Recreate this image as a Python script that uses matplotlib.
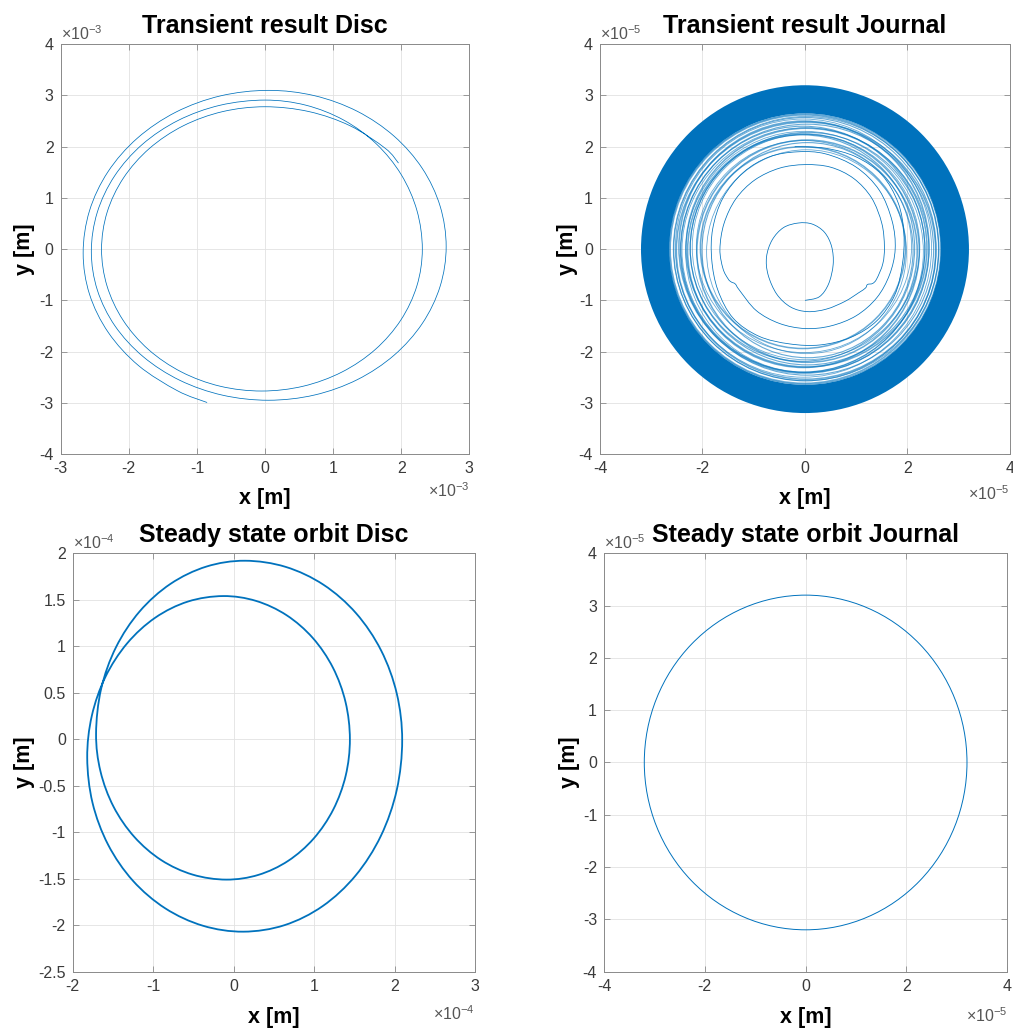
import numpy as np
import matplotlib
matplotlib.use("Agg")
import matplotlib.pyplot as plt
from matplotlib.path import Path
from matplotlib.patches import PathPatch, Circle, Annulus, Ellipse
from matplotlib.ticker import FuncFormatter

plt.rcParams["font.family"] = ["Liberation Sans", "DejaVu Sans"]
plt.rcParams["axes.unicode_minus"] = False
plt.rcParams["mathtext.fontset"] = "custom"
plt.rcParams["mathtext.rm"] = "Liberation Sans"
plt.rcParams["mathtext.it"] = "Liberation Sans:italic"
plt.rcParams["mathtext.bf"] = "Liberation Sans:bold"

LINE = "#0072BD"

# ---- Transient disc orbit (units of 1e-3 m) ----
disc_tr_x = [-0.85, -1.285, -1.858, -2.299, -2.576, -2.67,
             -2.578, -2.306, -1.873, -1.31, -0.654, 0.05,
             0.726, 1.355, 1.895, 2.31, 2.571, 2.66,
             2.571, 2.31, 1.895, 1.355, 0.726, 0.05,
             -0.623, -1.25, -1.788, -2.202, -2.461, -2.55,
             -2.463, -2.208, -1.803, -1.275, -0.66, 0.0,
             0.598, 1.155, 1.633, 2.0, 2.231, 2.31,
             2.23, 1.994, 1.619, 1.13, 0.561, -0.05,
             -0.659, -1.225, -1.712, -2.085, -2.32, -2.40,
             -2.318, -2.078, -1.697, -1.2, -0.622, 0.0,
             0.647, 1.25, 1.768, 1.96]
disc_tr_y = [-2.994, -2.765, -2.272, -1.63, -0.883, -0.08,
             0.744, 1.51, 2.168, 2.674, 2.992, 3.10,
             2.996, 2.691, 2.206, 1.575, 0.84, 0.05,
             -0.727, -1.45, -2.071, -2.548, -2.848, -2.95,
             -2.851, -2.561, -2.10, -1.50, -0.801, -0.05,
             0.717, 1.43, 2.043, 2.513, 2.809, 2.91,
             2.811, 2.52, 2.057, 1.455, 0.753, 0.0,
             -0.717, -1.385, -1.959, -2.399, -2.676, -2.77,
             -2.676, -2.399, -1.959, -1.385, -0.717, 0.0,
             0.72, 1.39, 1.966, 2.408, 2.685, 2.78,
             2.685, 2.408, 1.966, 1.68]
DISC_TR_SCALE = 1e-3

# ---- Transient journal orbit, early spiral (units of 1e-5 m) ----
jour_tr_x = [0.0, 0.28, 0.46, 0.55, 0.52, 0.38, 0.14, -0.13, -0.42, -0.64,
             -0.75, -0.72, -0.55, -0.28, 0.05, 0.42, 0.78, 1.05, 1.18, 1.22,
             1.32, 1.40, 1.52, 1.55, 1.5, 1.3, 0.95, 0.5, 0.0, -0.5,
             -0.98, -1.35, -1.58, -1.66, -1.6, -1.50, -1.44, -1.36, -1.28, -0.95,
             -0.5, 0.0, 0.5, 1.0, 1.4, 1.65, 1.76, 1.7, 1.45, 1.0,
             0.4, -0.15, -0.7, -1.2, -1.6, -1.8, -1.82, -1.7, -1.4, -0.9,
             -0.3, 0.3, 0.9, 1.4, 1.75, 1.9, 1.93, 1.82, 1.5, 1.0,
             0.4, -0.2]
jour_tr_y = [-1.0, -0.93, -0.68, -0.3, 0.05, 0.33, 0.49, 0.51, 0.42, 0.18,
             -0.15, -0.5, -0.88, -1.13, -1.22, -1.17, -1.02, -0.85, -0.76, -0.69,
             -0.67, -0.58, -0.28, 0.05, 0.5, 1.0, 1.38, 1.6, 1.65, 1.58,
             1.35, 0.98, 0.5, 0.0, -0.38, -0.58, -0.64, -0.68, -0.8, -1.2,
             -1.45, -1.55, -1.5, -1.3, -0.95, -0.5, 0.0, 0.55, 1.15, 1.6,
             1.86, 1.9, 1.8, 1.5, 1.0, 0.4, -0.2, -0.8, -1.35, -1.7,
             -1.85, -1.87, -1.72, -1.4, -0.9, -0.3, 0.3, 0.9, 1.45, 1.8,
             1.97, 2.0]
# later, densely overlapping revolutions (semi-axes and centre per revolution)
jour_rev_rx = [1.95, 2.00, 2.06, 2.10, 2.15, 2.19, 2.22, 2.26, 2.29, 2.32, 2.35,
               2.38, 2.41, 2.44, 2.47, 2.50, 2.53, 2.56, 2.59, 2.62, 2.65]
jour_rev_ry = [1.99, 1.97, 2.10, 2.07, 2.17, 2.21, 2.20, 2.28, 2.27, 2.35, 2.33,
               2.40, 2.39, 2.46, 2.45, 2.52, 2.51, 2.57, 2.58, 2.62, 2.64]
jour_rev_cx = [0.03, -0.04, 0.05, -0.02, 0.04, -0.05, 0.02, -0.03, 0.05, -0.01, 0.03,
               -0.04, 0.01, -0.02, 0.04, -0.03, 0.02, 0.0, 0.02, -0.01, 0.0]
jour_rev_cy = [-0.05, 0.03, -0.02, 0.05, -0.04, 0.02, 0.04, -0.03, 0.01, -0.05, 0.03,
               0.0, -0.02, 0.04, -0.01, 0.02, -0.03, 0.0, 0.01, 0.0, 0.0]
# settled whirl band
jour_band_outer = 3.2
jour_band_inner = 2.65
JOUR_SCALE = 1e-5

# ---- Steady-state disc orbit (units of 1e-4 m) ----
disc_ss_x = [0.14, 0.646, 1.118, 1.522, 1.833, 2.028, 2.095,
             2.028, 1.830, 1.516, 1.108, 0.632, 0.12,
             -0.382, -0.85, -1.252, -1.56, -1.754, -1.82,
             -1.763, -1.594, -1.325, -0.975, -0.568, -0.13,
             0.278, 0.658, 0.984, 1.234, 1.391, 1.445,
             1.393, 1.239, 0.995, 0.678, 0.308, -0.09,
             -0.51, -0.90, -1.235, -1.493, -1.655, -1.71,
             -1.647, -1.462, -1.168, -0.785, -0.339, 0.14]
disc_ss_y = [1.92, 1.854, 1.661, 1.355, 0.955, 0.49, -0.01,
             -0.544, -1.04, -1.466, -1.794, -2.0, -2.07,
             -2.006, -1.819, -1.522, -1.135, -0.684, -0.2,
             0.251, 0.67, 1.03, 1.307, 1.481, 1.54,
             1.488, 1.334, 1.089, 0.77, 0.399, 0.0,
             -0.391, -0.755, -1.068, -1.308, -1.459, -1.51,
             -1.456, -1.30, -1.05, -0.725, -0.346, 0.06,
             0.542, 0.99, 1.375, 1.671, 1.857, 1.92]
DISC_SS_SCALE = 1e-4

# ---- Steady-state journal orbit (units of 1e-5 m) ----
jour_ss_center = (0.0, 0.0)
jour_ss_radius = 3.2


def smooth_path(xs, ys, closed=False):
    """Catmull-Rom curve through the given points as cubic Bezier segments."""
    pts = np.column_stack([xs, ys]).astype(float)
    n = len(pts)
    verts = [pts[0]]
    codes = [Path.MOVETO]
    for i in range(n - 1):
        if i > 0:
            p0 = pts[i - 1]
        else:
            p0 = pts[-2] if closed else pts[0]
        p1, p2 = pts[i], pts[i + 1]
        if i + 2 < n:
            p3 = pts[i + 2]
        else:
            p3 = pts[1] if closed else pts[i + 1]
        verts += [p1 + (p2 - p0) / 6.0, p2 - (p3 - p1) / 6.0, p2]
        codes += [Path.CURVE4] * 3
    return Path(verts, codes)


def scaled_formatter(scale):
    def f(v, pos):
        val = round(v / scale, 6)
        if val == 0:
            val = 0.0
        return f"{val:g}"
    return FuncFormatter(f)


def style(ax, scale_x, scale_y, xlim, ylim, xticks, yticks, exp_x, exp_y,
          title, ylab_x, xlab_y, xexp_y):
    ax.set_xlim(xlim[0] * scale_x, xlim[1] * scale_x)
    ax.set_ylim(ylim[0] * scale_y, ylim[1] * scale_y)
    ax.set_xticks([t * scale_x for t in xticks])
    ax.set_yticks([t * scale_y for t in yticks])
    ax.xaxis.set_major_formatter(scaled_formatter(scale_x))
    ax.yaxis.set_major_formatter(scaled_formatter(scale_y))
    ax.grid(True, color="#e2e2e2", lw=0.6)
    ax.set_axisbelow(True)
    for s in ax.spines.values():
        s.set_color("#8a8a8a")
        s.set_linewidth(0.7)
    ax.tick_params(direction="in", top=True, right=True, length=4, width=0.6,
                   color="#8a8a8a", labelsize=11.5, labelcolor="#3a3a3a", pad=5)
    ax.set_title(title, fontsize=18, fontweight="bold", pad=8)
    ax.set_xlabel("x [m]", fontsize=15.5, fontweight="bold")
    ax.set_ylabel("y [m]", fontsize=15.5, fontweight="bold")
    ax.xaxis.set_label_coords(0.5, xlab_y)
    ax.yaxis.set_label_coords(ylab_x, 0.5)
    ax.text(0.0, 1.01, r"$\times10^{%d}$" % exp_y, transform=ax.transAxes,
            ha="left", va="baseline", fontsize=11.5, color="#555555")
    ax.text(1.0, xexp_y, r"$\times10^{%d}$" % exp_x, transform=ax.transAxes,
            ha="right", va="baseline", fontsize=11.5, color="#555555")


fig = plt.figure(figsize=(10.13, 10.34), dpi=100)
ax1 = fig.add_axes([0.0599, 0.5609, 0.4034, 0.3963])
ax2 = fig.add_axes([0.5923, 0.5609, 0.4047, 0.3963])
ax3 = fig.add_axes([0.0718, 0.0603, 0.3971, 0.4046])
ax4 = fig.add_axes([0.5962, 0.0603, 0.3982, 0.4046])

# Transient disc
s = DISC_TR_SCALE
ax1.add_patch(PathPatch(smooth_path(np.array(disc_tr_x) * s, np.array(disc_tr_y) * s),
                        fill=False, edgecolor=LINE, lw=0.55))
style(ax1, s, s, (-3, 3), (-4, 4), range(-3, 4), range(-4, 5), -3, -3,
      "Transient result Disc", -0.063, -0.083, -0.105)

# Transient journal
s = JOUR_SCALE
for i, (rx, ry, cx, cy) in enumerate(zip(jour_rev_rx, jour_rev_ry, jour_rev_cx, jour_rev_cy)):
    ax2.add_patch(Ellipse((cx * s, cy * s), 2 * rx * s, 2 * ry * s, fill=False,
                          edgecolor=LINE, lw=(0.6, 1.1, 0.8)[i % 3], alpha=0.6))
ax2.add_patch(Annulus((0, 0), jour_band_outer * s, (jour_band_outer - jour_band_inner) * s,
                      facecolor=LINE, edgecolor="none"))
ax2.add_patch(PathPatch(smooth_path(np.array(jour_tr_x) * s, np.array(jour_tr_y) * s),
                        fill=False, edgecolor=LINE, lw=0.55))
style(ax2, s, s, (-4, 4), (-4, 4), range(-4, 5, 2), range(-4, 5), -5, -5,
      "Transient result Journal", -0.054, -0.083, -0.112)

# Steady-state disc
s = DISC_SS_SCALE
ax3.add_patch(PathPatch(smooth_path(np.array(disc_ss_x) * s, np.array(disc_ss_y) * s, closed=True),
                        fill=False, edgecolor=LINE, lw=1.3))
style(ax3, s, s, (-2, 3), (-2.5, 2), range(-2, 4), [-2.5, -2, -1.5, -1, -0.5, 0, 0.5, 1, 1.5, 2],
      -4, -4, "Steady state orbit Disc", -0.094, -0.084, -0.115)

# Steady-state journal
s = JOUR_SCALE
ax4.add_patch(Circle((jour_ss_center[0] * s, jour_ss_center[1] * s), jour_ss_radius * s,
                     fill=False, edgecolor=LINE, lw=0.7))
style(ax4, s, s, (-4, 4), (-4, 4), range(-4, 5, 2), range(-4, 5), -5, -5,
      "Steady state orbit Journal", -0.06, -0.084, -0.12)

fig.savefig("out.png", dpi=100)
